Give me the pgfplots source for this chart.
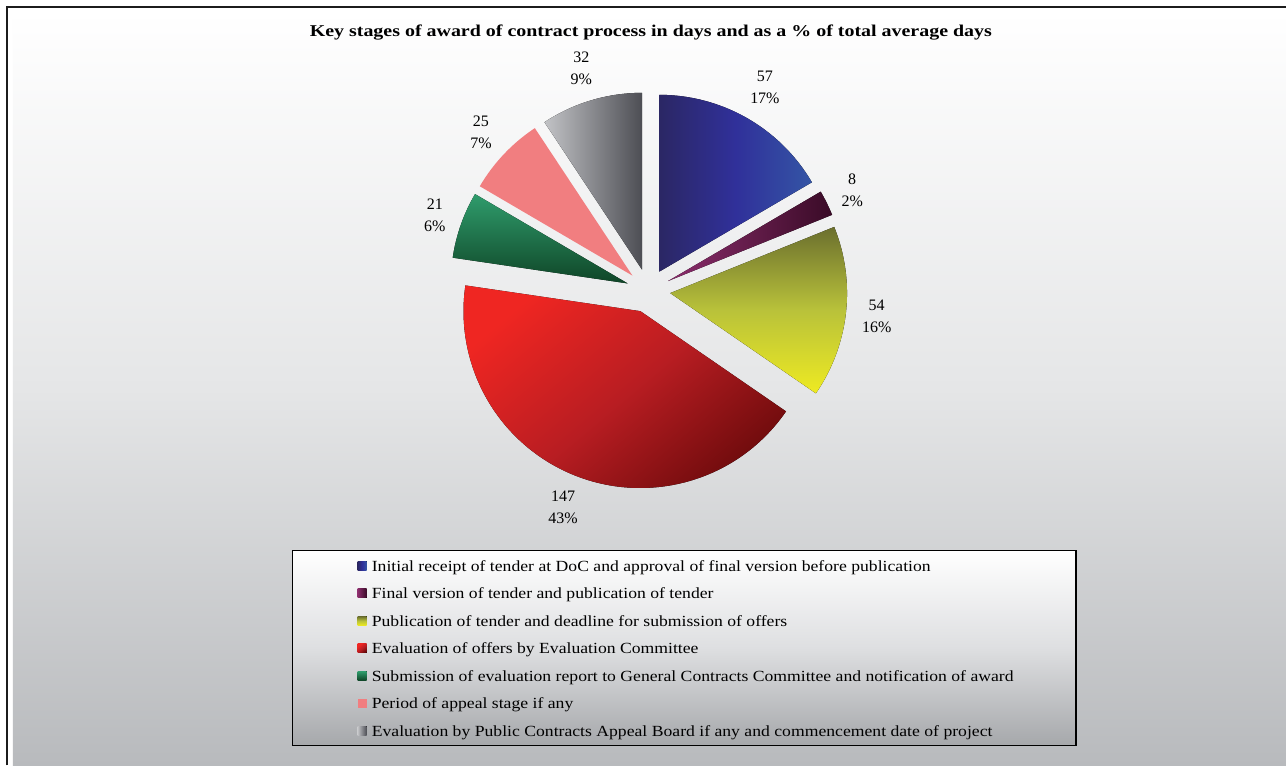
\documentclass[border=0pt]{standalone}
\usepackage{pgfplots}
\pgfplotsset{compat=1.18}
\usepackage{pgfplotstable}
\usepackage{fontspec}
\setmainfont{Liberation Serif}
\newfontfamily\legendfamily[FakeStretch=1.14]{Liberation Serif}
\newfontfamily\titlefamily[FakeStretch=1.21]{Liberation Serif}

\definecolor{blueL}{HTML}{2B2764}\definecolor{blueM}{HTML}{30309A}\definecolor{blueR}{HTML}{3455A5}
\definecolor{purpL}{HTML}{8B2D6C}\definecolor{purpR}{HTML}{3A0B27}
\definecolor{yelT}{HTML}{6B6F2E}\definecolor{yelM}{HTML}{B9C23A}\definecolor{yelB}{HTML}{EEEA22}
\definecolor{redT}{HTML}{EF2622}\definecolor{redM}{HTML}{B81D22}\definecolor{redB}{HTML}{6A0A0B}
\definecolor{grnT}{HTML}{2F9C6C}\definecolor{grnB}{HTML}{0F4527}
\definecolor{pinkC}{HTML}{F17E80}
\definecolor{gryL}{HTML}{C2C3C6}\definecolor{gryR}{HTML}{4D4E54}
\definecolor{bgMid}{HTML}{E5E6E7}\definecolor{bgBot}{HTML}{B8BABD}
\definecolor{lgMid}{HTML}{DEDFE1}\definecolor{lgBot}{HTML}{A6A8AB}
\definecolor{frameC}{HTML}{1C1C1C}

\tikzset{
  slice0/.style={left color=blueL, right color=blueR, middle color=blueM},
  slice1/.style={left color=purpL, right color=purpR},
  slice2/.style={top color=yelT, bottom color=yelB, middle color=yelM},
  slice3/.style={top color=redT, bottom color=redB, middle color=redM, shading angle=40},
  slice4/.style={top color=grnT, bottom color=grnB},
  slice5/.style={fill=pinkC},
  slice6/.style={left color=gryL, right color=gryR},
}

\pgfplotstableread{
val
57
8
54
147
21
25
32
}\piedata

\def\cx{649}\def\cy{475}
\def\rad{177}\def\expl{22}\def\lrad{213}

\pgfplotstablegetrowsof{\piedata}
\pgfmathtruncatemacro\pierows{\pgfplotsretval-1}
\gdef\pietotal{0}
\foreach \i in {0,...,\pierows}{%
  \pgfplotstablegetelem{\i}{val}\of\piedata
  \pgfmathsetmacro\tmpsum{\pietotal+\pgfplotsretval}%
  \xdef\pietotal{\tmpsum}%
}
\gdef\piecum{0}
\foreach \i in {0,...,\pierows}{%
  \pgfplotstablegetelem{\i}{val}\of\piedata
  \let\curval\pgfplotsretval
  \pgfmathsetmacro\sang{90-(\piecum/\pietotal)*360}%
  \pgfmathsetmacro\newcum{\piecum+\curval}%
  \xdef\piecum{\newcum}%
  \pgfmathsetmacro\eang{90-(\piecum/\pietotal)*360}%
  \pgfmathsetmacro\midang{(\sang+\eang)/2}%
  \pgfmathsetmacro\ox{\cx+\expl*cos(\midang)}%
  \pgfmathsetmacro\oy{\cy+\expl*sin(\midang)}%
  \pgfmathsetmacro\px{\ox+\rad*cos(\sang)}%
  \pgfmathsetmacro\py{\oy+\rad*sin(\sang)}%
  \pgfmathsetmacro\lx{\cx+\lrad*cos(\midang)}%
  \pgfmathsetmacro\ly{\cy+\lrad*sin(\midang)}%
  \pgfmathtruncatemacro\lan{\midang+180}%
  \pgfmathtruncatemacro\pcval{round((\curval/\pietotal)*100)}%
  \pgfmathtruncatemacro\vval{\curval}%
  \expandafter\xdef\csname pie@sa\i\endcsname{\sang}%
  \expandafter\xdef\csname pie@ea\i\endcsname{\eang}%
  \expandafter\xdef\csname pie@ox\i\endcsname{\ox}%
  \expandafter\xdef\csname pie@oy\i\endcsname{\oy}%
  \expandafter\xdef\csname pie@px\i\endcsname{\px}%
  \expandafter\xdef\csname pie@py\i\endcsname{\py}%
  \expandafter\xdef\csname pie@lx\i\endcsname{\lx}%
  \expandafter\xdef\csname pie@ly\i\endcsname{\ly}%
  \expandafter\xdef\csname pie@an\i\endcsname{\lan}%
  \expandafter\xdef\csname pie@pc\i\endcsname{\pcval}%
  \expandafter\xdef\csname pie@v\i\endcsname{\vval}%
}
\newcommand\pielabelfont{\fontsize{16}{22}\selectfont}
\newcommand\legfont{\legendfamily\fontsize{15.5}{18}\selectfont}

\begin{document}
\begin{tikzpicture}
\begin{axis}[x=1pt, y=1pt, xmin=0, xmax=1287, ymin=0, ymax=766,
  hide axis, clip=false, disabledatascaling]
% page and frame
\fill[white] (axis cs:0,0) rectangle (axis cs:1287,766);
\shade[top color=white, bottom color=bgBot, middle color=bgMid] (axis cs:13,0) rectangle (axis cs:1287,755);
\draw[frameC, line width=2.5pt] (axis cs:7,0) -- (axis cs:7,759) -- (axis cs:1287,759);
% title
\node[anchor=base, inner sep=0pt, font=\titlefamily\fontsize{16.5}{19}\selectfont\bfseries] at (axis cs:651.5,729) {Key stages of award of contract process in days and as a \% of total average days};
% slices and labels
\pgfplotsinvokeforeach{0,...,6}{%
  \edef\pietmp{\noexpand\fill[slice#1] (axis cs:\csname pie@ox#1\endcsname,\csname pie@oy#1\endcsname) -- (axis cs:\csname pie@px#1\endcsname,\csname pie@py#1\endcsname) arc[start angle=\csname pie@sa#1\endcsname, end angle=\csname pie@ea#1\endcsname, radius=\rad pt] -- cycle;}%
  \pietmp
  \edef\pietmp{\noexpand\node[align=center, inner sep=2pt, anchor=\csname pie@an#1\endcsname, font=\noexpand\pielabelfont] at (axis cs:\csname pie@lx#1\endcsname,\csname pie@ly#1\endcsname) {\csname pie@v#1\endcsname\noexpand\\\csname pie@pc#1\endcsname\noexpand\%};}%
  \pietmp
}
% legend
\draw[black, line width=1.2pt, top color=white, bottom color=lgBot, middle color=lgMid] (axis cs:293,215) rectangle (axis cs:1077,20);
\fill[slice0] (axis cs:358,195) rectangle (axis cs:367,204);
\node[anchor=base west, font=\legfont, inner sep=0pt] at (axis cs:372,194) {Initial receipt of tender at DoC and approval of final version before publication};
\fill[slice1] (axis cs:358,167.5) rectangle (axis cs:367,176.5);
\node[anchor=base west, font=\legfont, inner sep=0pt] at (axis cs:372,166.5) {Final version of tender and publication of tender};
\fill[slice2] (axis cs:358,140) rectangle (axis cs:367,149);
\node[anchor=base west, font=\legfont, inner sep=0pt] at (axis cs:372,139) {Publication of tender and deadline for submission of offers};
\fill[slice3] (axis cs:358,112.5) rectangle (axis cs:367,121.5);
\node[anchor=base west, font=\legfont, inner sep=0pt] at (axis cs:372,111.5) {Evaluation of offers by Evaluation Committee};
\fill[slice4] (axis cs:358,85) rectangle (axis cs:367,94);
\node[anchor=base west, font=\legfont, inner sep=0pt] at (axis cs:372,84) {Submission of evaluation report to General Contracts Committee and notification of award};
\fill[slice5] (axis cs:358,57.5) rectangle (axis cs:367,66.5);
\node[anchor=base west, font=\legfont, inner sep=0pt] at (axis cs:372,56.5) {Period of appeal stage if any};
\fill[slice6] (axis cs:358,30) rectangle (axis cs:367,39);
\node[anchor=base west, font=\legfont, inner sep=0pt] at (axis cs:372,29) {Evaluation by Public Contracts Appeal Board if any and commencement date of project};
\end{axis}
\end{tikzpicture}
\end{document}
